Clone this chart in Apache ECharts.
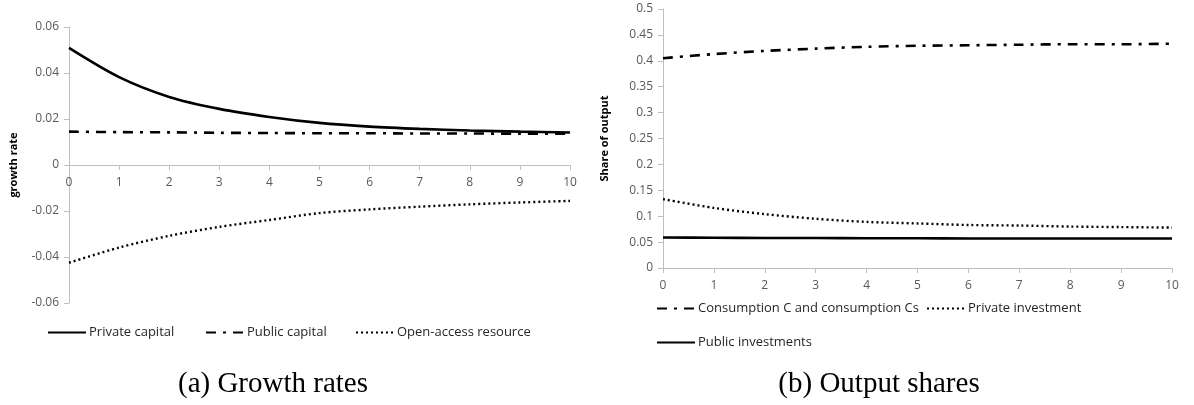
<!DOCTYPE html>
<html><head><meta charset="utf-8">
<script src="https://cdn.jsdelivr.net/npm/echarts@6/dist/echarts.min.js"></script>
<style>html,body{margin:0;padding:0;background:#fff}#c{width:1194px;height:405px}</style>
</head><body><div id="c"></div><script>
const periods = [0,1,2,3,4,5,6,7,8,9,10];
// (a) Growth rates
const privateCapital = [0.0509,0.0382,0.0296,0.0244,0.0209,0.0183,0.0167,0.0157,0.0150,0.0145,0.0141];
const publicCapital  = [0.0145,0.0143,0.0142,0.0140,0.0139,0.0138,0.0138,0.0137,0.0137,0.0136,0.0136];
const openAccess     = [-0.0425,-0.0359,-0.0308,-0.0269,-0.0239,-0.0209,-0.0193,-0.0181,-0.0171,-0.0163,-0.0156];
// (b) Output shares
const consumption    = [0.405,0.413,0.419,0.4235,0.427,0.429,0.430,0.431,0.432,0.432,0.433];
const privateInvest  = [0.133,0.116,0.104,0.095,0.089,0.086,0.083,0.082,0.080,0.079,0.078];
const publicInvest   = [0.059,0.0585,0.058,0.058,0.0575,0.0575,0.057,0.057,0.057,0.057,0.057];

const namesA = ['Private capital','Public capital','Open-access resource'];
const namesB = ['Consumption C and consumption Cs','Private investment','Public investments'];
const yAxisTitleA = 'growth rate';
const yAxisTitleB = 'Share of output';
const captionA = '(a) Growth rates';
const captionB = '(b) Output shares';

const pairs = arr => periods.map((p,i)=>[p,arr[i]]);
const AX = '#bfbfbf', LBL = '#595959', FONT = 'Open Sans';
const fmt = v => String(parseFloat(v.toFixed(3)));

const solid = {color:'#000', width:2.6, type:'solid'};
const dashdot = {color:'#000', width:2.6, type:[10,7,3,7]};
const dotted = {color:'#000', width:2.4, type:[2,3]};

function xAx(g,offset){return {type:'value',gridIndex:g,min:0,max:10,interval:1,position:'bottom',offset:offset,
  axisLine:{show:true,onZero:false,lineStyle:{color:AX,width:1}},
  axisTick:{show:true,length:5,lineStyle:{color:AX}},
  axisLabel:{color:LBL,fontFamily:FONT,fontSize:12,margin:12},
  splitLine:{show:false}};}
function yAx(g,min,max,iv,name,gap){return {type:'value',gridIndex:g,min:min,max:max,interval:iv,
  name:name,nameLocation:'middle',nameGap:gap,
  nameTextStyle:{fontFamily:FONT,fontWeight:'bold',fontSize:11,color:'#000'},
  axisLine:{show:true,onZero:false,lineStyle:{color:AX,width:1}},
  axisTick:{show:true,length:5,lineStyle:{color:AX}},
  axisLabel:{color:LBL,fontFamily:FONT,fontSize:12,margin:10,formatter:fmt},
  splitLine:{show:false}};}
function leg(name,left,top){return {data:[name],left:left,top:top,itemWidth:38,itemHeight:14,
  itemGap:0,padding:0,itemStyle:{opacity:0,borderWidth:0},
  textStyle:{fontFamily:FONT,fontSize:13,color:'#262626',padding:[0,0,0,-2]}};}
function ser(name,data,ls,x,y){return {name:name,type:'line',xAxisIndex:x,yAxisIndex:y,data:pairs(data),
  symbol:'none',smooth:0.3,lineStyle:ls,itemStyle:{color:'#000'},animation:false};}

const chart = echarts.init(document.getElementById('c'),null,{renderer:'canvas'});
chart.setOption({
  animation:false,
  grid:[{left:69,top:27,width:501,height:276},{left:663,top:9,width:509,height:259}],
  // left x axis sits on the zero line (half of the symmetric plot height above the bottom)
  xAxis:[xAx(0,-138),xAx(1,0)],
  yAxis:[yAx(0,-0.06,0.06,0.02,yAxisTitleA,50),yAx(1,0,0.5,0.05,yAxisTitleB,53)],
  legend:[leg(namesA[0],47,326),leg(namesA[1],205,326),leg(namesA[2],355,326),
          leg(namesB[0],656,302),leg(namesB[1],926,302),leg(namesB[2],656,336)],
  series:[ser(namesA[0],privateCapital,solid,0,0),ser(namesA[1],publicCapital,dashdot,0,0),ser(namesA[2],openAccess,dotted,0,0),
          ser(namesB[0],consumption,dashdot,1,1),ser(namesB[1],privateInvest,dotted,1,1),ser(namesB[2],publicInvest,solid,1,1)],
  graphic:[
    {type:'text',x:273,y:384,style:{text:captionA,font:'29px "Liberation Serif"',fill:'#000',textAlign:'center',textVerticalAlign:'middle'}},
    {type:'text',x:879,y:384,style:{text:captionB,font:'29px "Liberation Serif"',fill:'#000',textAlign:'center',textVerticalAlign:'middle'}}
  ]
});
</script></body></html>
